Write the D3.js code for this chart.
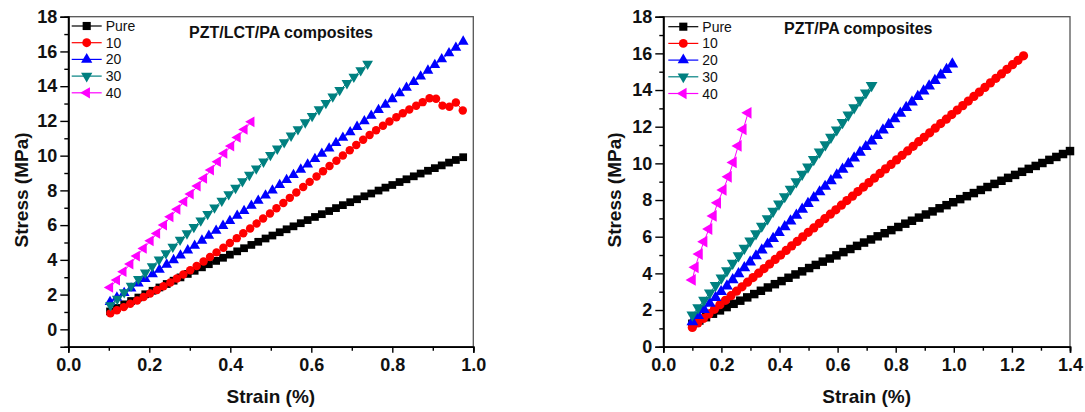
<!DOCTYPE html>
<html>
<head>
<meta charset="utf-8">
<script src="https://cdn.jsdelivr.net/npm/d3@7"></script>
<style>
    body { margin: 0; background: #fff; }
    svg { display: block; font-family: "Liberation Sans", Arial, sans-serif; }
</style>
</head>
<body>
<div id="showBox"></div>
<script>
// series labels shared by both panels
const seriesNames = ["Pure", "10", "20", "30", "40"]

// left panel: PZT/LCT/PA composites (strain %, stress MPa)
const lctPureX = [0.103,0.120,0.138,0.155,0.173,0.190,0.208,0.225,0.243,0.260,0.277,0.295,0.312,0.330,0.347,0.365,0.382,0.399,0.417,0.434,0.452,0.469,0.487,0.504,0.522,0.539,0.556,0.574,0.591,0.609,0.626,0.644,0.661,0.678,0.696,0.713,0.731,0.748,0.766,0.783,0.800,0.818,0.835,0.853,0.870,0.888,0.905,0.922,0.940,0.957,0.975]
const lctPureY = [1.03,1.23,1.44,1.63,1.83,2.02,2.22,2.41,2.61,2.80,2.99,3.19,3.37,3.57,3.75,3.94,4.12,4.30,4.49,4.67,4.86,5.04,5.23,5.40,5.59,5.76,5.93,6.11,6.29,6.47,6.63,6.81,6.98,7.15,7.32,7.49,7.66,7.82,7.99,8.16,8.31,8.48,8.64,8.81,8.97,9.13,9.28,9.44,9.60,9.75,9.91]
const lct10X = [0.104,0.120,0.137,0.153,0.170,0.186,0.202,0.219,0.235,0.252,0.268,0.284,0.301,0.317,0.334,0.350,0.366,0.383,0.399,0.416,0.432,0.449,0.465,0.481,0.498,0.514,0.531,0.547,0.563,0.580,0.596,0.613,0.629,0.645,0.662,0.678,0.695,0.711,0.728,0.744,0.760,0.777,0.793,0.810,0.826,0.842,0.859,0.875,0.892,0.908,0.924,0.941,0.957,0.974]
const lct10Y = [0.92,1.10,1.28,1.47,1.66,1.86,2.06,2.27,2.48,2.70,2.93,3.16,3.40,3.65,3.90,4.16,4.43,4.70,4.97,5.25,5.53,5.81,6.09,6.38,6.67,6.97,7.27,7.57,7.88,8.19,8.49,8.80,9.10,9.40,9.71,10.01,10.31,10.61,10.91,11.19,11.46,11.72,11.97,12.21,12.44,12.66,12.87,13.08,13.30,13.28,12.88,12.82,13.06,12.60]
const lct20X = [0.103,0.120,0.138,0.155,0.173,0.190,0.208,0.225,0.243,0.260,0.277,0.295,0.312,0.330,0.347,0.365,0.382,0.399,0.417,0.434,0.452,0.469,0.487,0.504,0.522,0.539,0.556,0.574,0.591,0.609,0.626,0.644,0.661,0.678,0.696,0.713,0.731,0.748,0.766,0.783,0.800,0.818,0.835,0.853,0.870,0.888,0.905,0.922,0.940,0.957,0.975]
const lct20Y = [1.58,1.83,2.10,2.36,2.64,2.90,3.18,3.44,3.73,3.99,4.26,4.55,4.82,5.11,5.39,5.68,5.96,6.24,6.54,6.82,7.12,7.41,7.71,8.00,8.31,8.60,8.89,9.20,9.50,9.81,10.11,10.42,10.73,11.03,11.35,11.66,11.99,12.30,12.63,12.94,13.26,13.60,13.91,14.25,14.56,14.90,15.22,15.55,15.90,16.22,16.57]
const lct30X = [0.104,0.121,0.138,0.155,0.173,0.190,0.207,0.224,0.241,0.258,0.276,0.293,0.310,0.327,0.344,0.361,0.379,0.396,0.413,0.430,0.447,0.464,0.482,0.499,0.516,0.533,0.550,0.567,0.585,0.602,0.619,0.636,0.653,0.670,0.688,0.705,0.722,0.739]
const lct30Y = [1.38,1.75,2.13,2.50,2.89,3.26,3.63,4.01,4.38,4.75,5.15,5.52,5.89,6.26,6.64,7.01,7.40,7.77,8.14,8.52,8.89,9.26,9.65,10.03,10.40,10.77,11.15,11.52,11.91,12.28,12.66,13.03,13.40,13.77,14.17,14.54,14.91,15.29]
const lct40X = [0.103,0.120,0.136,0.153,0.169,0.186,0.203,0.219,0.236,0.252,0.269,0.286,0.302,0.319,0.335,0.352,0.369,0.385,0.402,0.418,0.435,0.452]
const lct40Y = [2.41,2.84,3.32,3.76,4.22,4.66,5.10,5.52,6.00,6.48,6.91,7.35,7.79,8.25,8.69,9.17,9.65,10.13,10.55,11.05,11.51,11.95]

// right panel: PZT/PA composites
const paPureX = [0.100,0.124,0.147,0.171,0.195,0.218,0.242,0.265,0.289,0.313,0.336,0.360,0.384,0.407,0.431,0.455,0.478,0.502,0.525,0.549,0.573,0.596,0.620,0.644,0.667,0.691,0.715,0.738,0.762,0.785,0.809,0.833,0.856,0.880,0.904,0.927,0.951,0.975,0.998,1.022,1.045,1.069,1.093,1.116,1.140,1.164,1.187,1.211,1.235,1.258,1.282,1.305,1.329,1.353,1.376,1.400]
const paPureY = [1.25,1.43,1.61,1.80,1.98,2.16,2.34,2.51,2.69,2.87,3.05,3.23,3.41,3.58,3.76,3.94,4.11,4.29,4.46,4.64,4.81,4.98,5.16,5.33,5.50,5.68,5.85,6.02,6.19,6.36,6.53,6.71,6.87,7.04,7.21,7.38,7.55,7.72,7.88,8.05,8.21,8.38,8.55,8.71,8.88,9.05,9.21,9.37,9.54,9.70,9.86,10.02,10.19,10.35,10.51,10.67]
const pa10X = [0.100,0.119,0.138,0.157,0.176,0.195,0.214,0.233,0.252,0.271,0.290,0.309,0.328,0.347,0.366,0.385,0.404,0.423,0.442,0.461,0.480,0.499,0.518,0.537,0.556,0.575,0.594,0.613,0.632,0.651,0.670,0.689,0.708,0.727,0.746,0.765,0.784,0.803,0.822,0.841,0.860,0.879,0.898,0.917,0.936,0.955,0.974,0.993,1.012,1.031,1.050,1.069,1.088,1.107,1.126,1.145,1.164,1.183,1.202,1.221,1.240]
const pa10Y = [1.05,1.30,1.54,1.79,2.04,2.29,2.53,2.78,3.03,3.27,3.52,3.77,4.01,4.26,4.51,4.76,5.00,5.25,5.50,5.74,5.99,6.24,6.48,6.73,6.98,7.23,7.47,7.72,7.97,8.21,8.46,8.71,8.95,9.20,9.45,9.70,9.94,10.19,10.44,10.68,10.93,11.18,11.42,11.67,11.92,12.17,12.41,12.66,12.91,13.15,13.40,13.65,13.89,14.14,14.39,14.64,14.88,15.13,15.38,15.62,15.87]
const pa20X = [0.100,0.120,0.140,0.160,0.180,0.199,0.219,0.239,0.259,0.279,0.299,0.319,0.339,0.359,0.378,0.398,0.418,0.438,0.458,0.478,0.498,0.518,0.538,0.557,0.577,0.597,0.617,0.637,0.657,0.677,0.697,0.717,0.736,0.756,0.776,0.796,0.816,0.836,0.856,0.876,0.896,0.915,0.935,0.955,0.975,0.995]
const pa20Y = [1.36,1.69,2.02,2.36,2.68,3.00,3.31,3.65,3.97,4.30,4.62,4.95,5.27,5.59,5.90,6.22,6.54,6.85,7.17,7.49,7.81,8.12,8.44,8.74,9.05,9.36,9.67,9.98,10.29,10.60,10.91,11.22,11.51,11.82,12.12,12.43,12.73,13.04,13.34,13.64,13.94,14.22,14.52,14.82,15.12,15.42]
const pa30X = [0.100,0.120,0.140,0.160,0.180,0.200,0.219,0.239,0.259,0.279,0.299,0.319,0.339,0.359,0.378,0.398,0.418,0.438,0.458,0.478,0.498,0.518,0.538,0.558,0.577,0.597,0.617,0.637,0.657,0.677,0.697,0.717]
const pa30Y = [1.73,2.13,2.54,2.94,3.35,3.75,4.15,4.56,4.96,5.37,5.77,6.17,6.58,6.98,7.39,7.79,8.19,8.60,9.00,9.41,9.81,10.21,10.62,11.02,11.43,11.83,12.23,12.64,13.04,13.45,13.85,14.25]
const pa40X = [0.100,0.110,0.124,0.140,0.157,0.172,0.187,0.206,0.224,0.241,0.258,0.275,0.292]
const pa40Y = [3.64,4.33,5.05,5.73,6.42,7.13,7.85,8.55,9.27,10.05,10.95,11.85,12.76]

// axis ticks
const lctXTicks = [0, 0.2, 0.4, 0.6, 0.8, 1.0]
const lctXMinor = [0.1, 0.3, 0.5, 0.7, 0.9]
const paXTicks = [0, 0.2, 0.4, 0.6, 0.8, 1.0, 1.2, 1.4]
const paXMinor = [0.1, 0.3, 0.5, 0.7, 0.9, 1.1, 1.3]
const yTicks = [0, 2, 4, 6, 8, 10, 12, 14, 16, 18]
const yMinor = [1, 3, 5, 7, 9, 11, 13, 15, 17]

const colors = ["#000000", "#ff0000", "#0000ff", "#008080", "#ff00ff"]
const FONT = '"Liberation Sans", Arial, sans-serif'

function marker(i, k) {
    // square, circle, up, down, left triangles like Origin defaults
    if (i === 0) return {d: d3.symbol().type(d3.symbolSquare).size(60 * k)(), rot: 0}
    if (i === 1) return {d: d3.symbol().type(d3.symbolCircle).size(56 * k)(), rot: 0}
    const tri = d3.symbol().type(d3.symbolTriangle).size(50 * k)()
    return {d: tri, rot: [0, 0, 0, 180, -90][i]}
}

function drawPanel(svg, p) {
    const x = d3.scaleLinear().domain(p.xDomain).range([p.left, p.right])
    const y = d3.scaleLinear().domain(p.yDomain).range([p.bottom, p.top])
    const g = svg.append("g")

    // frame
    g.append("rect")
        .attr("x", p.left).attr("y", p.top)
        .attr("width", p.right - p.left).attr("height", p.bottom - p.top)
        .attr("fill", "none").attr("stroke", "#555").attr("stroke-width", 1.3)

    // curves
    p.series.forEach((s, i) => {
        const pts = s.x.map((v, j) => [v, s.y[j]])
        g.append("path")
            .datum(pts)
            .attr("fill", "none")
            .attr("stroke", colors[i])
            .attr("stroke-width", 1)
            .attr("d", d3.line().x(d => x(d[0])).y(d => y(d[1])))
        const m = marker(i, p.scale)
        g.append("g")
            .selectAll("path")
            .data(pts)
            .join("path")
            .attr("transform", d => `translate(${x(d[0])},${y(d[1])}) rotate(${m.rot})`)
            .attr("d", m.d)
            .attr("fill", colors[i])
    })

    // axes
    const styleAxis = a => {
        a.attr("font-size", 18).attr("font-family", FONT).attr("font-weight", "bold")
        a.selectAll("line").attr("stroke", "#000").attr("stroke-width", 1.4)
        a.select(".domain").attr("stroke", "#000").attr("stroke-width", 1.6)
        a.selectAll("text").attr("fill", "#111")
    }
    g.append("g").attr("transform", `translate(0,${p.bottom})`)
        .call(d3.axisBottom(x).tickValues(p.xMinor).tickSize(4).tickFormat(""))
        .call(styleAxis)
    g.append("g").attr("transform", `translate(0,${p.bottom})`)
        .call(d3.axisBottom(x).tickValues(p.xTicks).tickSize(6).tickPadding(6).tickFormat(d3.format(".1f")))
        .call(styleAxis)
    g.append("g").attr("transform", `translate(${p.left},0)`)
        .call(d3.axisLeft(y).tickValues(yMinor).tickSize(4).tickFormat(""))
        .call(styleAxis)
    g.append("g").attr("transform", `translate(${p.left},0)`)
        .call(d3.axisLeft(y).tickValues(yTicks).tickSize(8).tickPadding(3).tickFormat(d3.format("d")))
        .call(styleAxis)

    // axis titles
    g.append("text")
        .attr("x", (p.left + p.right) / 2).attr("y", 403)
        .attr("text-anchor", "middle")
        .attr("font-size", 19).attr("font-weight", "bold").attr("fill", "#111")
        .text("Strain (%)")
    g.append("text")
        .attr("transform", `translate(${p.yTitleX},190) rotate(-90)`)
        .attr("text-anchor", "middle")
        .attr("font-size", 19).attr("font-weight", "bold").attr("fill", "#111")
        .text("Stress (MPa)")

    // title
    g.append("text")
        .attr("x", p.titleX).attr("y", p.titleY)
        .attr("font-size", 16).attr("font-weight", "bold").attr("fill", "#111")
        .text(p.title)

    // legend
    const lg = g.append("g")
    seriesNames.forEach((name, i) => {
        const ly = p.legendY + i * 16.7
        lg.append("line")
            .attr("x1", p.legendX).attr("x2", p.legendX + 30)
            .attr("y1", ly).attr("y2", ly)
            .attr("stroke", colors[i]).attr("stroke-width", 1.2)
        const m = marker(i, 1.1)
        lg.append("path")
            .attr("transform", `translate(${p.legendX + 15},${ly}) rotate(${m.rot})`)
            .attr("d", m.d)
            .attr("fill", colors[i])
        lg.append("text")
            .attr("x", p.legendX + 34).attr("y", ly + 5)
            .attr("font-size", 14).attr("fill", "#111")
            .text(name)
    })
}

const svg = d3.select("#showBox").append("svg")
    .attr("width", 1085).attr("height", 412)

drawPanel(svg, {
    left: 68.3, right: 473.3, top: 16.7, bottom: 346.7,
    xDomain: [0, 1.0], yDomain: [-1, 18],
    xTicks: lctXTicks, xMinor: lctXMinor,
    yTitleX: 28, title: "PZT/LCT/PA composites", titleX: 189, titleY: 37.5,
    legendX: 71.7, legendY: 26,
    scale: 1,
    series: [
        {x: lctPureX, y: lctPureY},
        {x: lct10X, y: lct10Y},
        {x: lct20X, y: lct20Y},
        {x: lct30X, y: lct30Y},
        {x: lct40X, y: lct40Y}
    ]
})

drawPanel(svg, {
    left: 663.3, right: 1070, top: 16.7, bottom: 346.7,
    xDomain: [0, 1.4], yDomain: [0, 18],
    xTicks: paXTicks, xMinor: paXMinor,
    yTitleX: 621, title: "PZT/PA composites", titleX: 784, titleY: 33.5,
    legendX: 668.3, legendY: 26.7,
    scale: 1.2,
    series: [
        {x: paPureX, y: paPureY},
        {x: pa10X, y: pa10Y},
        {x: pa20X, y: pa20Y},
        {x: pa30X, y: pa30Y},
        {x: pa40X, y: pa40Y}
    ]
})
</script>
</body>
</html>
